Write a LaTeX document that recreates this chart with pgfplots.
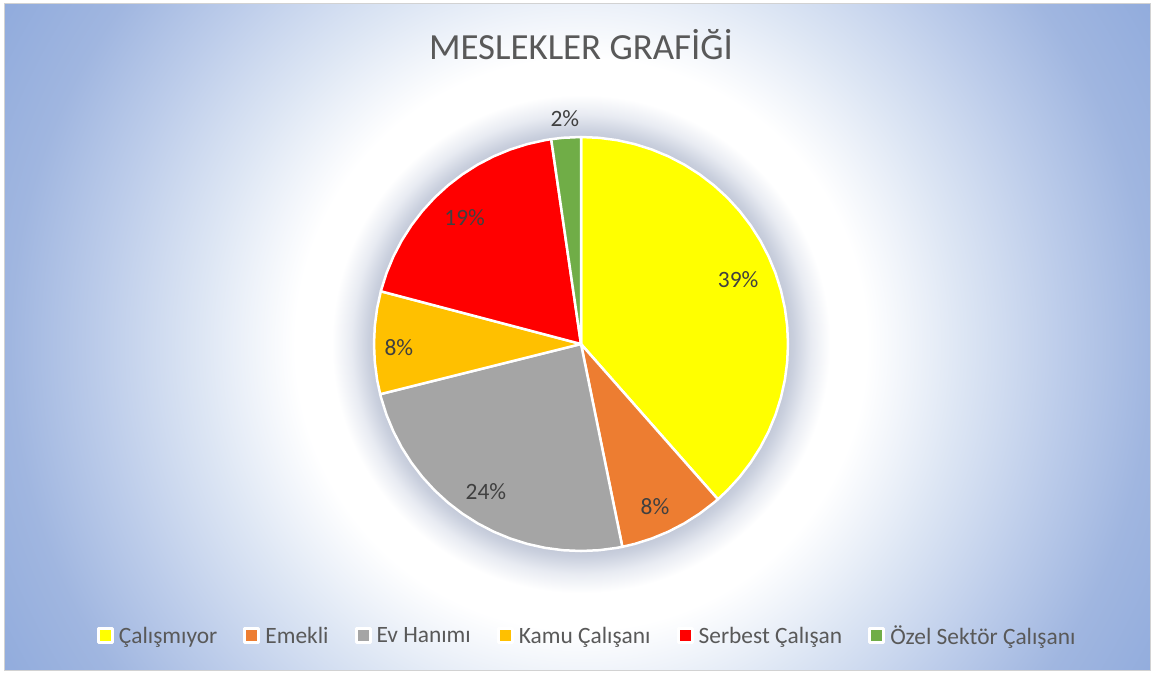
\documentclass[border=0pt]{standalone}
\usepackage{fontspec}
\setmainfont{Carlito}
\usepackage{pgfplots}
\pgfplotsset{compat=1.18}
\usepgfplotslibrary{polar}
\definecolor{txtgray}{HTML}{595959}
\definecolor{lblgray}{HTML}{404040}
\definecolor{cYel}{HTML}{FFFF00}
\definecolor{cOra}{HTML}{ED7D31}
\definecolor{cGra}{HTML}{A5A5A5}
\definecolor{cGol}{HTML}{FFC000}
\definecolor{cRed}{HTML}{FF0000}
\definecolor{cGre}{HTML}{70AD47}
\pgfdeclareradialshading{bgshade}{\pgfpointorigin}{%
 color(0bp)=(white);
 color(7.2bp)=(white);
 color(7.39bp)=(rgb,255:red,195;green,201;blue,216);
 color(7.6bp)=(rgb,255:red,202;green,208;blue,222);
 color(8.2bp)=(rgb,255:red,232;green,235;blue,242);
 color(8.9bp)=(white);
 color(10.2bp)=(white);
 color(13.6bp)=(rgb,255:red,221;green,230;blue,244);
 color(17.2bp)=(rgb,255:red,188;green,204;blue,234);
 color(20.4bp)=(rgb,255:red,160;green,182;blue,224);
 color(24.3bp)=(rgb,255:red,143;green,170;blue,220);
 color(50bp)=(rgb,255:red,143;green,170;blue,220)}
\begin{document}
\begin{tikzpicture}
\path[use as bounding box] (0bp,0bp) rectangle (1153bp,-673bp);
\begin{scope}
\clip (4bp,-3bp) rectangle (1150bp,-670bp);
\shade[shading=bgshade] (581bp,-344bp) circle (700bp);
\end{scope}
\draw[gray!35, line width=1bp] (4bp,-3bp) rectangle (1150bp,-670bp);
\node[anchor=base, text=txtgray, inner sep=0pt] at (581bp,-59bp) {\fontsize{37}{40}\selectfont MESLEKLER GRAFİĞİ};
\begin{polaraxis}[
  at={(581bp,-344bp)}, anchor=center,
  scale only axis, width=414bp, height=414bp,
  ymin=0, ymax=1, hide axis, clip=false,
  legend columns=6,
  legend style={at={(0.515,-0.205)}, anchor=center, draw=none, fill=none,
    font=\fontsize{23.5}{26}\selectfont, text=txtgray,
    nodes={inner sep=2bp},
    /tikz/every odd column/.append style={column sep=3bp},
    /tikz/every even column/.append style={column sep=24bp}},
  legend image code/.code={\draw[line width=3bp] (0bp,-7bp) rectangle (14bp,7bp);},
  every axis plot/.append style={draw=white, line width=2.5bp, line join=round},
]
\addplot[fill=cYel] coordinates {(0,0) (90,1) (85,1) (80,1) (75,1) (70,1) (65,1) (60,1) (55,1) (50,1) (45,1) (40,1) (35,1) (30,1) (25,1) (20,1) (15,1) (10,1) (5,1) (0,1) (-5,1) (-10,1) (-15,1) (-20,1) (-25,1) (-30,1) (-35,1) (-40,1) (-45,1) (-48.6,1) (0,0)};
\addlegendentry{Çalışmıyor}
\addplot[fill=cOra] coordinates {(0,0) (-48.6,1) (-50,1) (-55,1) (-60,1) (-65,1) (-70,1) (-75,1) (-78.48,1) (0,0)};
\addlegendentry{Emekli}
\addplot[fill=cGra] coordinates {(0,0) (-78.48,1) (-80,1) (-85,1) (-90,1) (-95,1) (-100,1) (-105,1) (-110,1) (-115,1) (-120,1) (-125,1) (-130,1) (-135,1) (-140,1) (-145,1) (-150,1) (-155,1) (-160,1) (-165,1) (-165.96,1) (0,0)};
\addlegendentry{Ev Hanımı}
\addplot[fill=cGol] coordinates {(0,0) (-165.96,1) (-170,1) (-175,1) (-180,1) (-185,1) (-190,1) (-194.76,1) (0,0)};
\addlegendentry{Kamu Çalışanı}
\addplot[fill=cRed] coordinates {(0,0) (-194.76,1) (-195,1) (-200,1) (-205,1) (-210,1) (-215,1) (-220,1) (-225,1) (-230,1) (-235,1) (-240,1) (-245,1) (-250,1) (-255,1) (-260,1) (-261.72,1) (0,0)};
\addlegendentry{Serbest Çalışan}
\addplot[fill=cGre] coordinates {(0,0) (-261.72,1) (-265,1) (-270,1) (0,0)};
\addlegendentry{Özel Sektör Çalışanı}
\begin{scope}[every node/.style={text=lblgray, font=\fontsize{23.5}{26}\selectfont}]
\node at (axis cs:22.2,0.82) {39\%};
\node at (axis cs:-65.6,0.865) {8\%};
\node at (axis cs:-122.7,0.85) {24\%};
\node at (axis cs:-179,0.88) {8\%};
\node at (axis cs:132.6,0.83) {19\%};
\node at (axis cs:94.1,1.09) {2\%};
\end{scope}
\end{polaraxis}
\end{tikzpicture}
\end{document}
